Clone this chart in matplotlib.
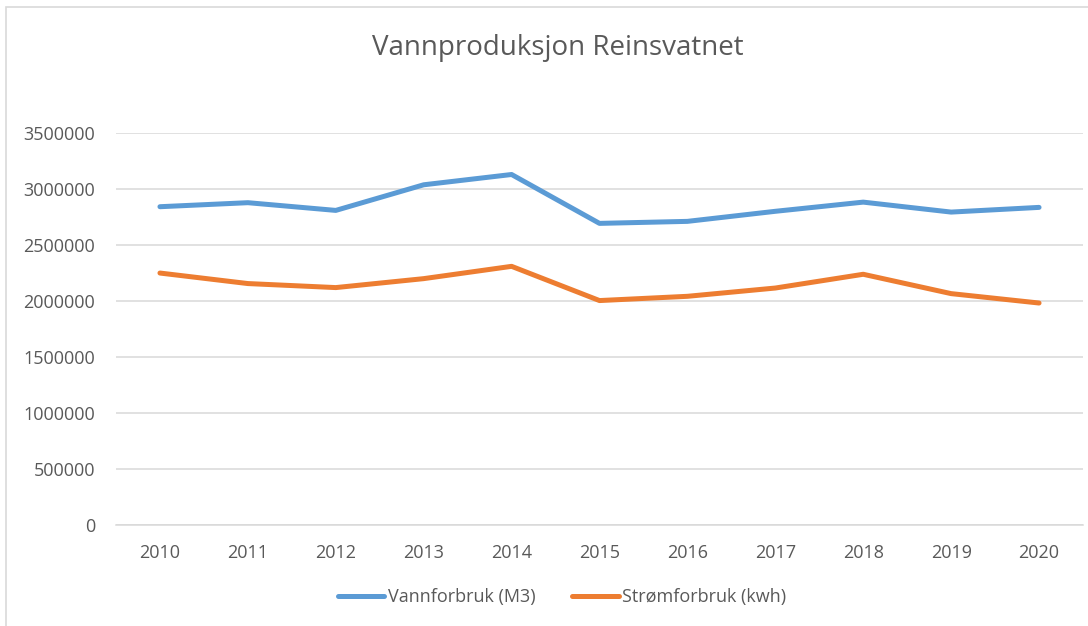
import matplotlib
matplotlib.use("Agg")
import matplotlib.pyplot as plt
from matplotlib.patches import Rectangle

years = ["2010", "2011", "2012", "2013", "2014", "2015", "2016", "2017", "2018", "2019", "2020"]
vannforbruk = [2841000, 2877000, 2808000, 3037000, 3129000, 2692000, 2710000, 2800000, 2882000, 2793000, 2835000]
stromforbruk = [2248000, 2154000, 2118000, 2198000, 2308000, 2002000, 2040000, 2114000, 2237000, 2064000, 1980000]
yticks = [0, 500000, 1000000, 1500000, 2000000, 2500000, 3000000, 3500000]

title = "Vannproduksjon Reinsvatnet"
series_names = ["Vannforbruk (M3)", "Strømforbruk (kwh)"]
colors = ["#5B9BD5", "#ED7D31"]
text_color = "#595959"

plt.rcParams['font.family'] = ['Open Sans', 'DejaVu Sans']

W, H = 1088, 626
fig = plt.figure(figsize=(W / 100, H / 100), dpi=100)

# outer chart border
fig.patches.append(Rectangle((6 / W, -0.1), 1.2, (H - 7) / H + 0.1, transform=fig.transFigure,
                             fill=False, edgecolor="#d9d9d9", linewidth=1.2))

ax = fig.add_axes([116 / W, (H - 524.5) / H, (1083 - 116) / W, (524.5 - 133) / H])
x = range(len(years))
ax.plot(x, vannforbruk, color=colors[0], linewidth=3.6, solid_capstyle="round",
        solid_joinstyle="round", label=series_names[0], zorder=3)
ax.plot(x, stromforbruk, color=colors[1], linewidth=3.6, solid_capstyle="round",
        solid_joinstyle="round", label=series_names[1], zorder=3)

ax.set_xlim(-0.5, len(years) - 0.5)
ax.set_ylim(0, 3500000)
ax.set_yticks(yticks)
ax.set_yticklabels([str(v) for v in yticks])
ax.set_xticks(list(x))
ax.set_xticklabels(years)
ax.tick_params(axis="both", length=0, labelsize=13, labelcolor=text_color)
ax.tick_params(axis="y", pad=15)
ax.tick_params(axis="x", pad=14)
ax.grid(axis="y", color="#d9d9d9", linewidth=1.1, zorder=0)
for s in ["top", "right", "left"]:
    ax.spines[s].set_visible(False)
ax.spines["bottom"].set_color("#d9d9d9")
ax.spines["bottom"].set_linewidth(1.1)

fig.text(558 / W, 1 - 48 / H, title, ha="center", va="center", fontsize=20, color=text_color)

leg = fig.legend(loc="center", bbox_to_anchor=(562 / W, 1 - 597 / H), ncol=2, frameon=False,
                 fontsize=13, labelcolor=text_color, handlelength=2.6, handletextpad=0.2,
                 columnspacing=2.0)

fig.savefig("out.png", dpi=100)
